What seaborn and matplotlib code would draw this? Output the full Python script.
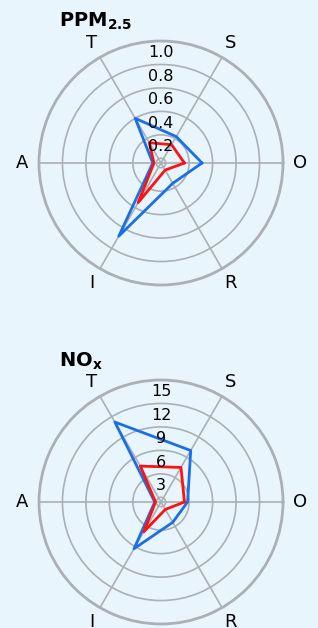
import numpy as np
import pandas as pd
import matplotlib
matplotlib.use("Agg")
import matplotlib.pyplot as plt
import matplotlib.transforms as mtransforms
import seaborn as sns

# === Data ===
categories = ["O", "S", "T", "A", "I", "R"]

ppm_blue = [0.31, 0.22, 0.40, 0.03, 0.68, 0.16]
ppm_red = [0.16, 0.14, 0.16, 0.02, 0.35, 0.03]
ppm_ticks = [0.2, 0.4, 0.6, 0.8, 1.0]

nox_blue = [2.8, 7.0, 11.2, 0.2, 6.3, 2.4]
nox_red = [2.4, 4.5, 4.7, 0.1, 3.8, 0.5]
nox_ticks = [3, 6, 9, 12, 15]

BG = "#e9f5fc"
GRID = "#aab0b5"
BLUE = "#1a6fe6"
RED = "#ff1111"

sns.set_theme(style="white")
plt.rcParams["font.family"] = ["DejaVu Sans"]
plt.rcParams["text.color"] = "black"
plt.rcParams["xtick.color"] = "black"
plt.rcParams["ytick.color"] = "black"


def radar(ax, blue, red, ticks, title, title_y):
    n = len(categories)
    theta = np.linspace(0, 2 * np.pi, n, endpoint=False)
    rows = []
    for name, vals in (("blue", blue), ("red", red)):
        for t, v in zip(list(theta) + [theta[0]], list(vals) + [vals[0]]):
            rows.append({"theta": t, "value": v, "series": name})
    df = pd.DataFrame(rows)
    sns.lineplot(data=df, x="theta", y="value", hue="series", sort=False,
                 palette={"blue": BLUE, "red": RED}, linewidth=2,
                 legend=False, ax=ax, estimator=None)

    rmax = ticks[-1]
    ax.set_ylim(-0.04 * rmax, rmax)
    ax.set_facecolor(BG)
    ax.set_xticks(theta)
    ax.set_xticklabels(categories, fontsize=13, color="black")
    ax.tick_params(axis="x", pad=-1)
    ax.set_yticks([0] + ticks)
    ax.set_yticklabels([])
    # radial labels sit just below each ring, centred on the vertical spoke
    shift = mtransforms.offset_copy(ax.transData, fig=ax.figure, x=0, y=-3, units="points")
    for t in ticks:
        txt = f"{t:g}" if rmax > 2 else f"{t:.1f}"
        ax.text(np.pi / 2, t, txt, ha="center", va="top", fontsize=11.5,
                color="black", transform=shift)
    ax.grid(True, color=GRID, linewidth=1.2)
    ax.spines["polar"].set_color(GRID)
    ax.spines["polar"].set_linewidth(2)
    ax.set_xlabel("")
    ax.set_ylabel("")
    ax.figure.text(59 / 318, title_y, title, fontsize=14, fontweight="bold",
                   ha="left", va="baseline", color="black")


fig = plt.figure(figsize=(3.18, 6.28), dpi=100, facecolor=BG)
ax1 = fig.add_axes([39 / 318, (628 - 163 - 122) / 628, 244 / 318, 244 / 628], projection="polar")
ax2 = fig.add_axes([39 / 318, (628 - 502 - 122) / 628, 244 / 318, 244 / 628], projection="polar")

radar(ax1, ppm_blue, ppm_red, ppm_ticks, r"PPM$_{\mathbf{2.5}}$", 1 - 27 / 628)
radar(ax2, nox_blue, nox_red, nox_ticks, r"NO$_{\mathbf{x}}$", 1 - 367 / 628)

fig.savefig("out.png", dpi=100, facecolor=BG)
